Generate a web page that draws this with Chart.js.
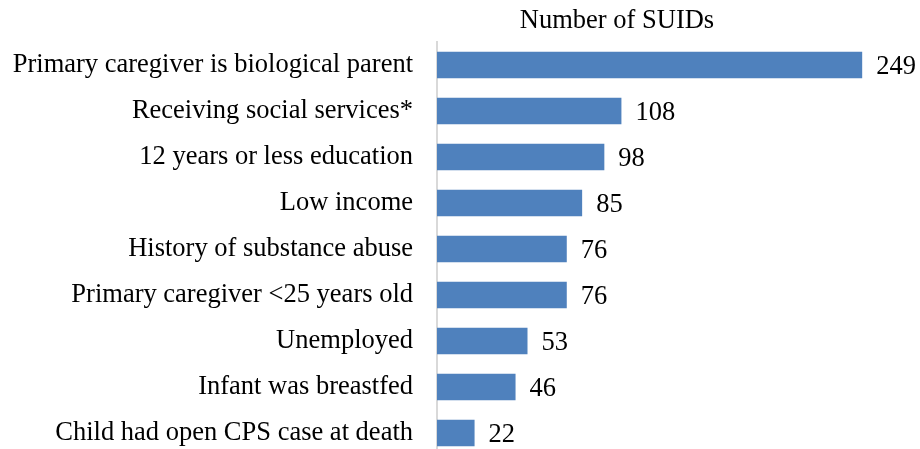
<!DOCTYPE html>
<html>
<head>
<meta charset="utf-8">
<script src="https://cdn.jsdelivr.net/npm/chart.js@4.4.1/dist/chart.umd.min.js"></script>
<style>
  html, body { margin: 0; padding: 0; background: #ffffff; overflow: hidden; }
  #wrap { position: relative; width: 920px; height: 470px; }
</style>
</head>
<body>
<div id="wrap"><canvas id="chart"></canvas></div>
<script>
const titleText = 'Number of SUIDs';
const categories = [
    'Primary caregiver is biological parent',
    'Receiving social services*',
    '12 years or less education',
    'Low income',
    'History of substance abuse',
    'Primary caregiver <25 years old',
    'Unemployed',
    'Infant was breastfed',
    'Child had open CPS case at death'
];
const suidCounts = [249, 108, 98, 85, 76, 76, 53, 46, 22];

const fontFamily = '"Liberation Serif", "Times New Roman", serif';
const fontSize = 26.5;
const barColor = '#4f81bd';

// value labels at the end of each bar, plus the title above the plot
const valueLabels = {
    id: 'valueLabels',
    afterDatasetsDraw: function (chart) {
        const ctx = chart.ctx;
        const meta = chart.getDatasetMeta(0);
        ctx.save();
        ctx.font = fontSize + 'px ' + fontFamily;
        ctx.fillStyle = '#000000';
        ctx.textAlign = 'left';
        ctx.textBaseline = 'middle';
        meta.data.forEach(function (bar, i) {
            ctx.fillText(String(suidCounts[i]), bar.x + 14, bar.y + 2);
        });
        ctx.textAlign = 'center';
        ctx.fillText(titleText, chart.chartArea.left + 180, 21);
        ctx.restore();
    }
};

const ctx = document.getElementById('chart').getContext('2d');
new Chart(ctx, {
    type: 'bar',
    data: {
        labels: categories,
        datasets: [{
            label: titleText,
            data: suidCounts,
            backgroundColor: barColor,
            borderWidth: 0,
            categoryPercentage: 1.0,
            barPercentage: 0.58
        }]
    },
    options: {
        indexAxis: 'y',
        responsive: true,
        maintainAspectRatio: false,
        animation: false,
        layout: { padding: { top: 42, bottom: 14, left: 0, right: 10 } },
        plugins: {
            legend: { display: false },
            title: { display: false },
            tooltip: { enabled: false }
        },
        scales: {
            x: {
                display: false,
                min: 0,
                max: 277
            },
            y: {
                afterFit: function (scale) {
                    scale.width = 437;
                    scale.paddingTop = 0;
                    scale.paddingBottom = 0;
                },
                grid: { display: false, drawTicks: false },
                border: { display: true, color: '#d9d9d9', width: 2 },
                ticks: {
                    color: '#000000',
                    padding: 24,
                    font: { family: fontFamily, size: fontSize }
                }
            }
        }
    },
    plugins: [valueLabels]
});
</script>
</body>
</html>
